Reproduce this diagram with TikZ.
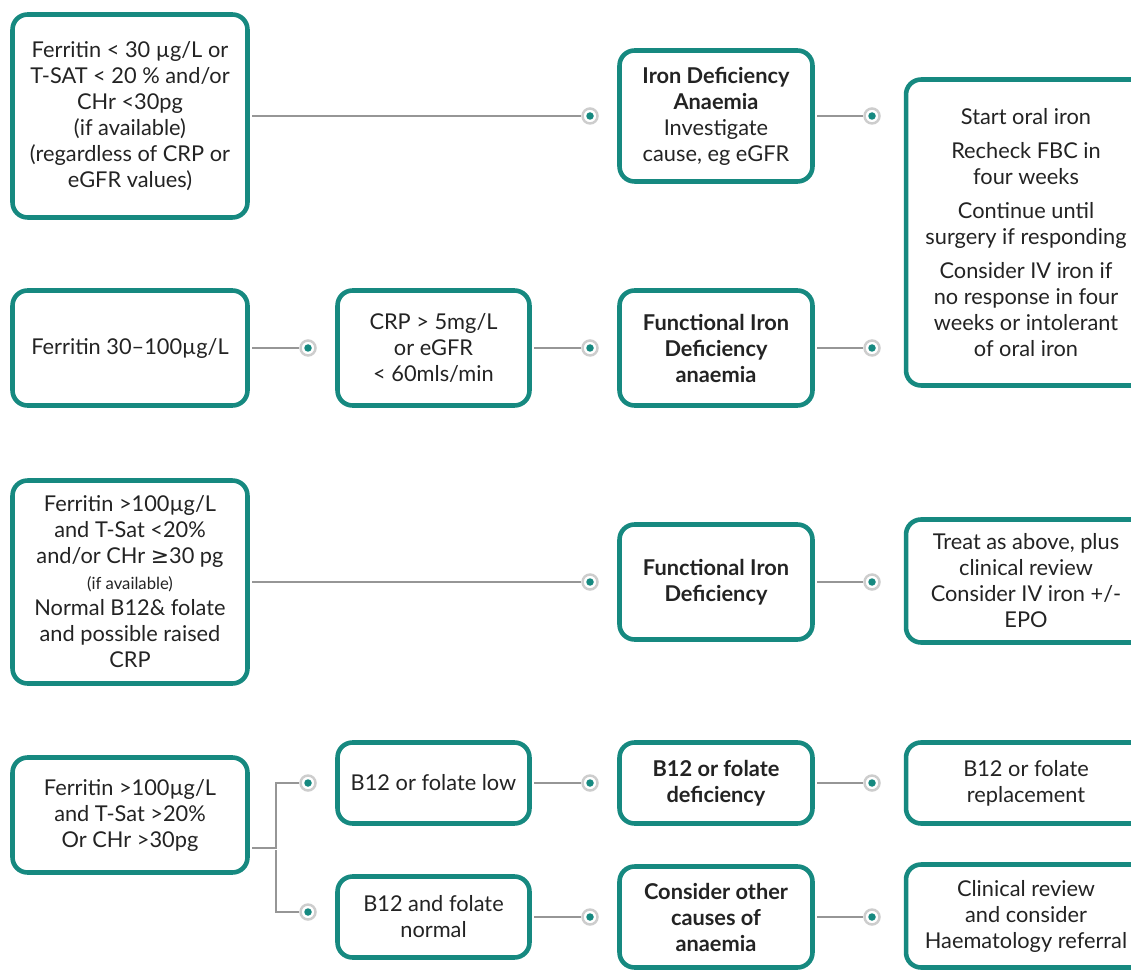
\documentclass[tikz,border=0pt]{standalone}
\usepackage{fontspec}
\setmainfont{Lato}
\newfontfamily\symfont{DejaVu Sans}
\definecolor{boxteal}{RGB}{22,137,128}
\definecolor{linegrey}{RGB}{150,150,150}
\definecolor{ringgrey}{RGB}{205,205,205}
\definecolor{txtgrey}{RGB}{35,35,35}

\tikzset{
  stepbox/.style={draw=boxteal, line width=2.6pt, rounded corners=0.3cm, fill=white,
    align=center, text=txtgrey, font=\fontsize{12.4}{14.8}\selectfont, inner sep=0pt},
  link/.style={draw=linegrey, line width=0.8pt, shorten <=1.3pt},
  marker/.style={circle, draw=ringgrey, line width=1.4pt, fill=white, minimum size=0.3cm,
    inner sep=0pt, path picture={\fill[boxteal] (path picture bounding box.center) circle (0.075cm);}}
}

\begin{document}
\begin{tikzpicture}[x=0.02cm, y=-0.02cm]
    % Page frame
    \clip (0,0) rectangle (1131,972);

    % First column
    \node[stepbox, minimum width=4.7cm, minimum height=4.06cm] (a1) at (130,116)
        {Ferritin < 30 µg/L or\\T-SAT < 20 \% and/or\\CHr <30pg\\(if available)\\(regardless of CRP or\\eGFR values)};
    \node[stepbox, minimum width=4.7cm, minimum height=2.3cm] (b1) at (130,348) {Ferritin 30–100µg/L};
    \node[stepbox, minimum width=4.7cm, minimum height=4.06cm] (c1) at (130,582)
        {Ferritin >100µg/L\\and T-Sat <20\%\\and/or CHr {\symfont ≥}30 pg\\{\fontsize{9.5}{12}\selectfont (if available)}\\Normal B12\& folate\\and possible raised\\CRP};
    \node[stepbox, minimum width=4.7cm, minimum height=2.3cm] (d1) at (130,815)
        {Ferritin >100µg/L\\and T-Sat >20\%\\Or CHr >30pg};

    % Second column
    \node[stepbox, minimum width=3.84cm, minimum height=2.3cm] (b2) at (433.5,348)
        {CRP > 5mg/L\\or eGFR\\< 60mls/min};
    \node[stepbox, minimum width=3.84cm, minimum height=1.62cm] (d2) at (433.5,783) {B12 or folate low};
    \node[stepbox, minimum width=3.84cm, minimum height=1.62cm] (e2) at (433.5,917)
        {B12 and folate\\normal};

    % Third column
    \node[stepbox, minimum width=3.86cm, minimum height=2.62cm] (a2) at (716,116)
        {\textbf{Iron Deficiency}\\\textbf{Anaemia}\\Investigate\\cause, eg eGFR};
    \node[stepbox, minimum width=3.86cm, minimum height=2.3cm] (b3) at (716,348)
        {\textbf{Functional Iron}\\\textbf{Deficiency}\\\textbf{anaemia}};
    \node[stepbox, minimum width=3.86cm, minimum height=2.3cm] (c2) at (716,582)
        {\textbf{Functional Iron}\\\textbf{Deficiency}};
    \node[stepbox, minimum width=3.86cm, minimum height=1.62cm] (d3) at (716,783)
        {\textbf{B12 or folate}\\\textbf{deficiency}};
    \node[stepbox, minimum width=3.86cm, minimum height=2.02cm] (e3) at (716,917)
        {\textbf{Consider other}\\\textbf{causes of}\\\textbf{anaemia}};

    % Fourth column (runs off the right edge)
    \node[stepbox, minimum width=4.8cm, minimum height=6.12cm] (a3) at (1026,232.5)
        {Start oral iron\\[0.16cm]Recheck FBC in\\four weeks\\[0.16cm]Continue until\\surgery if responding\\[0.16cm]Consider IV iron if\\no response in four\\weeks or intolerant\\of oral iron};
    \node[stepbox, minimum width=4.8cm, minimum height=2.46cm] (c3) at (1026,581)
        {Treat as above, plus\\clinical review\\Consider IV iron +/-\\EPO};
    \node[stepbox, minimum width=4.8cm, minimum height=1.62cm] (d4) at (1026,783)
        {B12 or folate\\replacement};
    \node[stepbox, minimum width=4.8cm, minimum height=2.06cm] (e4) at (1026,916)
        {Clinical review\\and consider\\Haematology referral};

    % Markers in front of the boxes
    \node[marker] (ma2) at (590,116) {};
    \node[marker] (ma3) at (872,116) {};
    \node[marker] (mb2) at (308,348) {};
    \node[marker] (mb3) at (590,348) {};
    \node[marker] (mb4) at (872,348) {};
    \node[marker] (mc2) at (590,582) {};
    \node[marker] (mc3) at (872,582) {};
    \node[marker] (md2) at (308,783) {};
    \node[marker] (md3) at (590,783) {};
    \node[marker] (md4) at (872,783) {};
    \node[marker] (me2) at (308,912) {};
    \node[marker] (me3) at (590,917) {};
    \node[marker] (me4) at (872,917) {};
    \coordinate (fork) at (276,848);

    % Connectors
    \draw[link] (a1) -- (ma2);
    \draw[link] (a2) -- (ma3);
    \draw[link] (b1) -- (mb2);
    \draw[link] (b2) -- (mb3);
    \draw[link] (b3) -- (mb4);
    \draw[link] (c1) -- (mc2);
    \draw[link] (c2) -- (mc3);
    \draw[link] (d1.east |- fork) -- (fork) |- (md2);
    \draw[link] (fork) |- (me2);
    \draw[link] (d2) -- (md3);
    \draw[link] (d3) -- (md4);
    \draw[link] (e2) -- (me3);
    \draw[link] (e3) -- (me4);
\end{tikzpicture}
\end{document}
